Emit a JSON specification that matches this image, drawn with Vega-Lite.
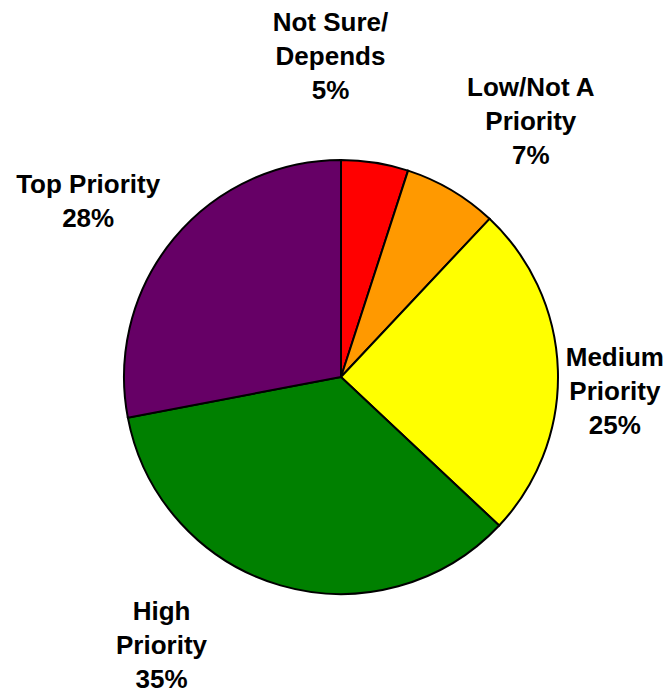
{
  "$schema": "https://vega.github.io/schema/vega-lite/v6.json",
  "width": 682,
  "height": 754,
  "autosize": {"type": "none"},
  "padding": 0,
  "background": "white",
  "view": {"stroke": null},
  "data": {"values": [
    {"category": "Not Sure/Depends", "pct": 5, "order": 1, "label": "Not Sure/\nDepends\n5%"},
    {"category": "Low/Not A Priority", "pct": 7, "order": 2, "label": "Low/Not A\nPriority\n7%"},
    {"category": "Medium Priority", "pct": 25, "order": 3, "label": "Medium\nPriority\n25%"},
    {"category": "High Priority", "pct": 35, "order": 4, "label": "High\nPriority\n35%"},
    {"category": "Top Priority", "pct": 28, "order": 5, "label": "Top Priority\n28%"}
  ]},
  "encoding": {
    "theta": {"field": "pct", "type": "quantitative", "stack": true},
    "order": {"field": "order", "type": "quantitative"}
  },
  "layer": [
    {
      "mark": {"type": "arc", "outerRadius": 217, "stroke": "black", "strokeWidth": 2},
      "encoding": {
        "color": {
          "field": "category",
          "type": "nominal",
          "scale": {
            "domain": ["Not Sure/Depends", "Low/Not A Priority", "Medium Priority", "High Priority", "Top Priority"],
            "range": ["#FF0000", "#FF9900", "#FFFF00", "#008000", "#660066"]
          },
          "legend": null
        }
      }
    },
    {
      "mark": {
        "type": "text",
        "radius": 310,
        "font": "Liberation Sans",
        "fontWeight": "bold",
        "fontSize": 26,
        "lineHeight": 34,
        "lineBreak": "\n",
        "color": "black",
        "align": "center",
        "baseline": "middle",
        "dx": {"expr": "[-59, 32, -36, -93, -14][datum.order - 1]"},
        "dy": {"expr": "[-48, -22, -9, -63, 6][datum.order - 1]"}
      },
      "encoding": {
        "text": {"field": "label", "type": "nominal"}
      }
    }
  ]
}
